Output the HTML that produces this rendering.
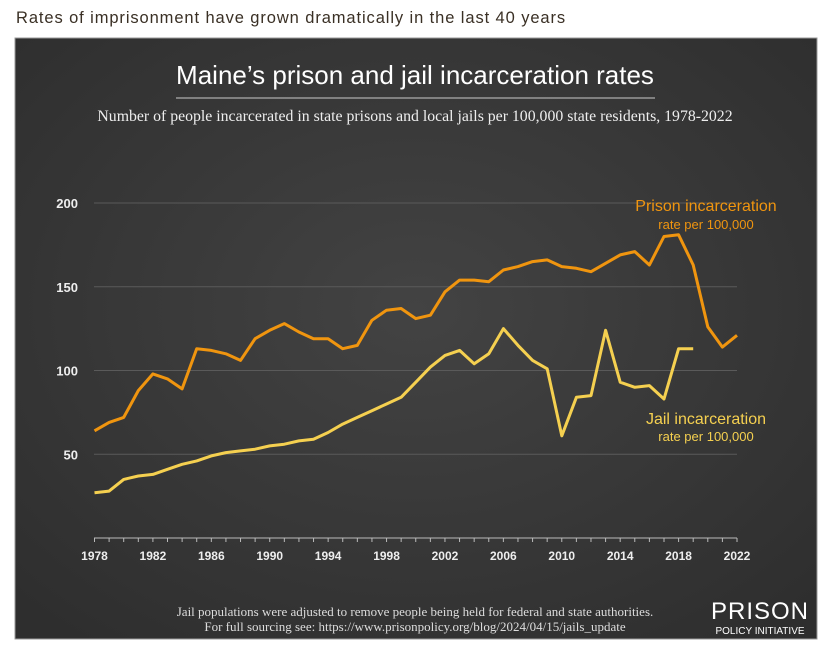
<!DOCTYPE html>
<html><head><meta charset="utf-8"><style>
body{margin:0;background:#fff;width:833px;height:648px;overflow:hidden;font-family:"Liberation Sans",sans-serif}
#hdr{position:absolute;left:16px;top:9px;font-size:16.5px;color:#3a3025;letter-spacing:0.9px}
svg{position:absolute;left:0;top:0}
</style></head><body>
<div id="hdr">Rates of imprisonment have grown dramatically in the last 40 years</div>
<svg id="chart" width="833" height="648">
<defs><radialGradient id="bg" cx="50%" cy="45%" r="70%"><stop offset="0" stop-color="#434343"/><stop offset="1" stop-color="#2e2e2e"/></radialGradient></defs>
<rect x="15" y="38" width="802" height="601" fill="url(#bg)" stroke="#999" stroke-width="1"/>
<text x="415" y="84" text-anchor="middle" fill="#fff" font-size="26">Maine’s prison and jail incarceration rates</text>
<line x1="176" y1="98" x2="655" y2="98" stroke="#999" stroke-width="1.5"/>
<text x="415" y="121" text-anchor="middle" fill="#eee" font-size="15.8" font-family="Liberation Serif, serif">Number of people incarcerated in state prisons and local jails per 100,000 state residents, 1978-2022</text>
<g id="grid"></g><g id="axes"></g><g id="lines"></g>
<text x="706" y="211" text-anchor="middle" fill="#f0950f" font-size="16">Prison incarceration</text>
<text x="706" y="229" text-anchor="middle" fill="#f0950f" font-size="13">rate per 100,000</text>
<text x="706" y="424" text-anchor="middle" fill="#f5d050" font-size="16">Jail incarceration</text>
<text x="706" y="441" text-anchor="middle" fill="#f5d050" font-size="13">rate per 100,000</text>
<text x="415" y="616" text-anchor="middle" fill="#ddd" font-size="13" font-family="Liberation Serif, serif">Jail populations were adjusted to remove people being held for federal and state authorities.</text>
<text x="415" y="631" text-anchor="middle" fill="#ddd" font-size="13" font-family="Liberation Serif, serif">For full sourcing see: https://www.prisonpolicy.org/blog/2024/04/15/jails_update</text>
<text x="760" y="619" text-anchor="middle" fill="#fff" font-size="24" letter-spacing="1">PRISON</text>
<text x="760" y="634" text-anchor="middle" fill="#fff" font-size="10">POLICY INITIATIVE</text>
</svg>
<script>
const years=[];for(let y=1978;y<=2022;y++)years.push(y);
const prison=[64,69,72,88,98,95,89,113,112,110,106,119,124,128,123,119,119,113,115,130,136,137,131,133,147,154,154,153,160,162,165,166,162,161,159,164,169,171,163,180,181,163,126,114,121];
const jail=[27,28,35,37,38,41,44,46,49,51,52,53,55,56,58,59,63,68,72,76,80,84,93,102,109,112,104,110,125,115,106,101,61,84,85,124,93,90,91,83,113,113];
const yTicks=[50,100,150,200];
const xTicks=[1978,1982,1986,1990,1994,1998,2002,2006,2010,2014,2018,2022];
const NS='http://www.w3.org/2000/svg';
const X=y=>94.5+(y-1978)*(737-94.5)/44;
const Y=v=>538-v*(538-203)/200;
function mk(t,a,p){const e=document.createElementNS(NS,t);for(const k in a)e.setAttribute(k,a[k]);p.appendChild(e);return e;}
const grid=document.getElementById('grid'),axes=document.getElementById('axes'),lines=document.getElementById('lines');
yTicks.forEach(v=>{
 const l=mk('line',{x1:94,x2:737,y1:Y(v),y2:Y(v),stroke:'#5a5a5a','stroke-width':1},grid);
 
 
 const t=mk('text',{x:78,y:Y(v)+5,'text-anchor':'end',fill:'#eee','font-size':13,'font-weight':'bold'},axes);
 t.textContent=v;
 
 
});
const ax=mk('line',{x1:94,x2:737,y1:538,y2:538,stroke:'#bbb','stroke-width':1},axes);


years.forEach(y=>{const tk=mk('line',{x1:X(y),x2:X(y),y1:538,y2:542,stroke:'#bbb','stroke-width':1},axes);
 
 });
xTicks.forEach(y=>{const t=mk('text',{x:X(y),y:560,'text-anchor':'middle',fill:'#eee','font-size':12,'font-weight':'bold'},axes);
 t.textContent=y;
 
 });
function line(d,c,n){const pts=d.map((v,i)=>X(years[i]).toFixed(1)+','+Y(v).toFixed(1)).join(' ');
 const p=mk('polyline',{points:pts,fill:'none',stroke:c,'stroke-width':3,'stroke-linejoin':'round'},lines);
 
 }
line(jail,'#f5d050','jail-rate-line');
line(prison,'#f0950f','prison-rate-line');
</script>
</body></html>
